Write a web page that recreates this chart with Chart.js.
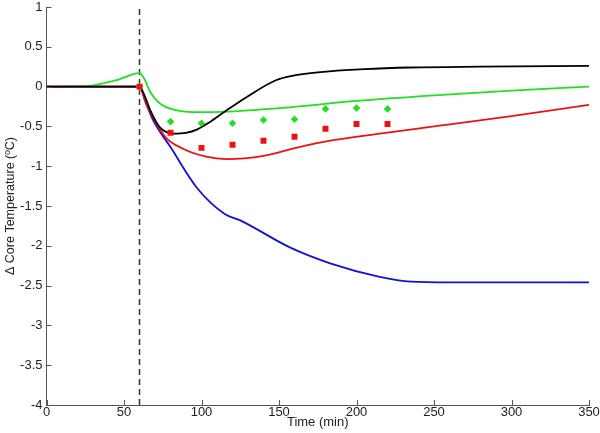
<!DOCTYPE html>
<html>
<head>
<meta charset="utf-8">
<script src="https://cdn.jsdelivr.net/npm/chart.js@4"></script>
<style>
  html, body { margin: 0; padding: 0; background: #fff; }
  #wrap { width: 600px; height: 433px; }
</style>
</head>
<body>
<div id="wrap"><canvas id="coreChart" width="600" height="433"></canvas></div>
<script>
// Model curves (time in min, delta core temp in C)
const blackTime = [0, 60, 63, 67, 73, 82, 90, 97, 105, 116, 130, 148, 160, 175, 205, 235, 280, 350];
const blackTemp = [0, 0, -0.1, -0.3, -0.51, -0.59, -0.58, -0.54, -0.45, -0.3, -0.12, 0.08, 0.14, 0.18, 0.22, 0.24, 0.25, 0.26];

const redTime = [0, 60, 64, 69, 77, 88, 103, 116, 140, 161, 183, 215, 250, 300, 350];
const redTemp = [0, 0, -0.2, -0.4, -0.64, -0.78, -0.88, -0.91, -0.87, -0.77, -0.68, -0.59, -0.5, -0.37, -0.23];

const blueTime = [0, 60, 64, 69, 80, 97, 115, 125, 157, 183, 215, 235, 260, 350];
const blueTemp = [0, 0, -0.2, -0.43, -0.76, -1.27, -1.6, -1.68, -2.02, -2.22, -2.39, -2.45, -2.46, -2.46];

const greenTime = [12, 28, 45, 60, 63, 67, 73, 82, 95, 107, 150, 200, 250, 300, 350];
const greenTemp = [0, 0.01, 0.08, 0.17, 0.1, -0.07, -0.21, -0.29, -0.32, -0.32, -0.27, -0.18, -0.11, -0.05, 0];

// Measured points
const obsTime = [60, 80, 100, 120, 140, 160, 180, 200, 220];
const greenObs = [0, -0.44, -0.46, -0.46, -0.42, -0.41, -0.28, -0.27, -0.28];
const redObs = [0, -0.58, -0.77, -0.73, -0.68, -0.63, -0.53, -0.47, -0.47];

// Start of cooling
const markTime = [60, 60];
const markTemp = [-4, 1];

const xTicks = [0, 50, 100, 150, 200, 250, 300, 350];
const yTicks = [1, 0.5, 0, -0.5, -1, -1.5, -2, -2.5, -3, -3.5, -4];

function pts(xs, ys) {
  return xs.map((x, i) => ({ x: x, y: ys[i] }));
}

function curve(xs, ys, color) {
  return {
    data: pts(xs, ys),
    borderColor: color,
    borderWidth: 1.8,
    pointRadius: 0,
    fill: false,
    cubicInterpolationMode: 'monotone'
  };
}

function markers(xs, ys, color, style, r) {
  return {
    data: pts(xs, ys),
    showLine: false,
    pointStyle: style,
    pointRadius: r,
    pointBackgroundColor: color,
    pointBorderColor: color,
    pointBorderWidth: 0
  };
}

// inward tick marks, like the original figure
const inwardTicks = {
  id: 'inwardTicks',
  afterDraw(chart) {
    const ctx = chart.ctx;
    const xs = chart.scales.x, ys = chart.scales.y;
    const area = chart.chartArea;
    ctx.save();
    ctx.strokeStyle = '#555';
    ctx.lineWidth = 1;
    ctx.beginPath();
    xTicks.forEach(v => {
      const px = Math.round(xs.getPixelForValue(v)) + 0.5;
      ctx.moveTo(px, area.bottom);
      ctx.lineTo(px, area.bottom - 5);
    });
    yTicks.forEach(v => {
      const py = Math.round(ys.getPixelForValue(v)) + 0.5;
      ctx.moveTo(area.left, py);
      ctx.lineTo(area.left + 5, py);
    });
    ctx.stroke();
    ctx.restore();
  }
};

const tickFont = { family: 'Liberation Sans', size: 13 };

// note: chart.js paints dataset 0 last (on top)
new Chart(document.getElementById('coreChart'), {
  type: 'line',
  data: {
    datasets: [
      markers(obsTime, redObs, '#f01010', 'rect', 4.2),
      markers(obsTime, greenObs, '#20e020', 'rectRot', 3.8),
      curve(blackTime, blackTemp, '#000000'),
      curve(greenTime, greenTemp, '#20e020'),
      curve(redTime, redTemp, '#f01010'),
      curve(blueTime, blueTemp, '#1010e0'),
      {
        data: pts(markTime, markTemp),
        borderColor: '#333',
        borderWidth: 1.5,
        borderDash: [6, 4],
        pointRadius: 0
      }
    ]
  },
  options: {
    responsive: false,
    animation: false,
    layout: { padding: { left: 0, right: 11, top: 7, bottom: 0 } },
    plugins: {
      legend: { display: false },
      tooltip: { enabled: false }
    },
    scales: {
      x: {
        type: 'linear',
        min: 0,
        max: 350,
        afterBuildTicks: s => { s.ticks = xTicks.map(v => ({ value: v })); },
        afterFit: s => { s.height = 28; s.paddingLeft = 0; s.paddingRight = 0; },
        grid: { display: false, drawTicks: false },
        border: { color: '#555', width: 1 },
        ticks: { color: '#222', font: tickFont, padding: 0, maxRotation: 0, callback: v => String(v) },
        title: { display: true, text: 'Time (min)', color: '#222', font: tickFont, padding: { top: 0, bottom: 3 } }
      },
      y: {
        type: 'linear',
        min: -4,
        max: 1,
        afterBuildTicks: s => { s.ticks = yTicks.map(v => ({ value: v })); },
        afterFit: s => { s.width = 46.5; s.paddingTop = 0; s.paddingBottom = 0; },
        grid: { display: false, drawTicks: false },
        border: { color: '#555', width: 1 },
        ticks: { color: '#222', font: tickFont, padding: 4, callback: v => String(v) },
        title: { display: true, text: '\u0394 Core Temperature (\u00baC)', color: '#222', font: { family: 'Liberation Sans', size: 12.5 }, padding: { top: 3, bottom: 0 } }
      }
    }
  },
  plugins: [inwardTicks]
});
</script>
</body>
</html>
